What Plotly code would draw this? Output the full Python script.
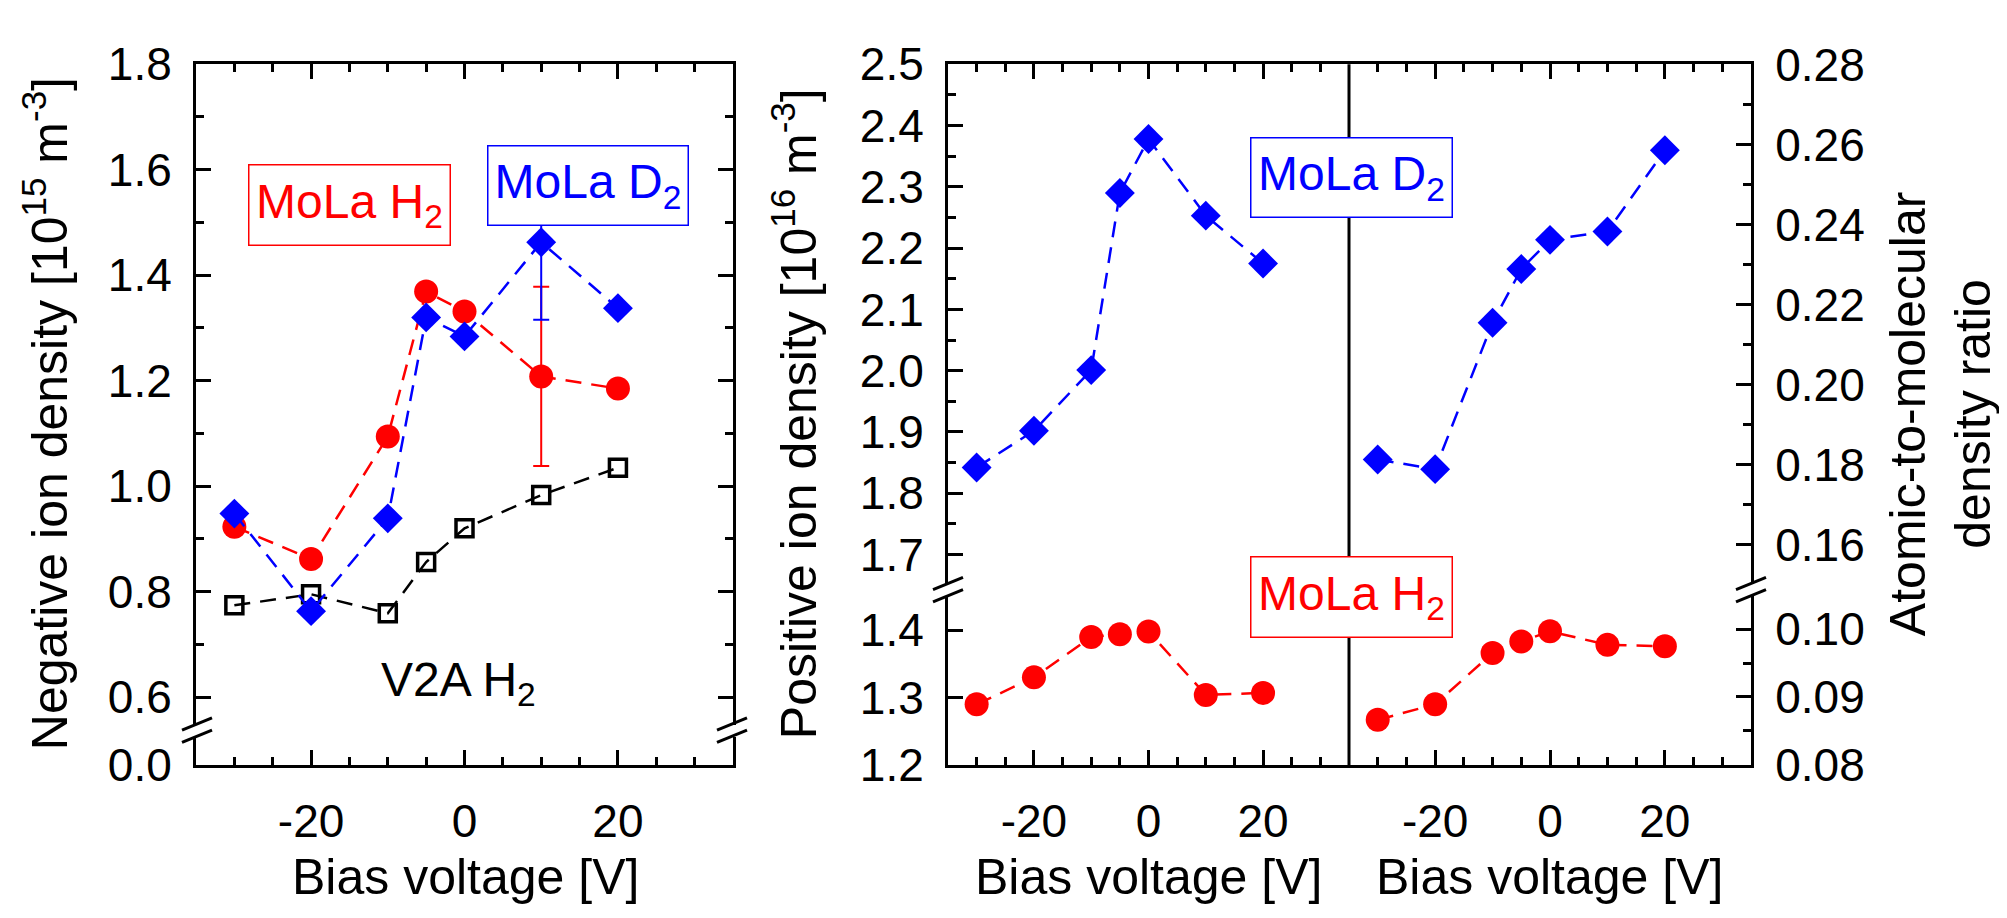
import plotly.graph_objects as go

# ---------------- data ----------------
bias = [-30, -20, -10, -5, 0, 10, 20]

# left panel: negative ion density [1e15 m^-3]
neg_v2a_h2 = [0.774, 0.795, 0.759, 0.856, 0.920, 0.983, 1.035]
neg_mola_h2 = [0.923, 0.862, 1.094, 1.369, 1.331, 1.208, 1.185]
neg_mola_h2_err = [None, None, None, None, None, 0.170, None]
neg_mola_d2 = [0.948, 0.763, 0.939, 1.320, 1.284, 1.4625, 1.3375]
neg_mola_d2_err = [None, None, None, None, None, 0.147, None]

# right panel, left half: positive ion density [1e16 m^-3]
pos_mola_d2 = [1.842, 1.902, 2.001, 2.290, 2.378, 2.253, 2.175]
pos_mola_h2 = [1.290, 1.330, 1.390, 1.394, 1.398, 1.304, 1.307]

# right panel, right half: atomic-to-molecular density ratio
ratio_mola_d2 = [0.1813, 0.1789, 0.2155, 0.2289, 0.2362, 0.2383, 0.2586]
ratio_mola_h2 = [0.0866, 0.0889, 0.0965, 0.0982, 0.0997, 0.0977, 0.0975]

x_tickvals = [-20, 0, 20]
x_ticktext = ["-20", "0", "20"]

# ---------------- styling helpers ----------------
W, H = 2007, 918
FONT = "Liberation Sans, Arial, Helvetica, sans-serif"
RED = "#ff0000"
BLUE = "#0000ff"
BLACK = "#000000"


def fx(px):
    return px / W


def fy(py):
    return 1 - py / H


tickfont = dict(family=FONT, size=46, color=BLACK)

common = dict(showline=True, linecolor=BLACK, linewidth=3, ticks="inside",
              ticklen=15, tickwidth=3, tickcolor=BLACK, showgrid=False,
              zeroline=False, fixedrange=True, tickfont=tickfont)


def xaxis(domain=None, anchor=None, side="bottom", labels=True, overlaying=None):
    d = dict(common)
    d.update(range=[-35, 35], anchor=anchor, side=side,
             tickmode="array", tickvals=x_tickvals, ticktext=x_ticktext,
             showticklabels=labels,
             minor=dict(ticks="inside", ticklen=8, tickwidth=3, tickcolor=BLACK,
                        tickmode="linear", tick0=0, dtick=5))
    if overlaying:
        d["overlaying"] = overlaying
    else:
        d["domain"] = domain
    if labels:
        d["ticklabelstandoff"] = 14
    return d


def yaxis(domain, anchor, rng, dtick=None, minor=None, fmt=".1f", side="left",
          mirror=False, tickvals=None, ticktext=None):
    d = dict(common)
    d.update(domain=domain, anchor=anchor, range=rng, side=side, mirror=mirror,
             tickformat=fmt, ticklabelstandoff=12)
    if tickvals is not None:
        d.update(tickmode="array", tickvals=tickvals, ticktext=ticktext)
    else:
        d.update(tickmode="linear", tick0=0, dtick=dtick)
    if minor:
        d["minor"] = dict(ticks="inside", ticklen=8, tickwidth=3, tickcolor=BLACK,
                          tickmode="linear", tick0=0, dtick=minor)
    return d


fig = go.Figure()

# empty helper traces so that every frame axis (top lines, lower break segment) is drawn
for xa, ya in [("x", "y2"), ("x2", "y"), ("x4", "y3"), ("x6", "y5"), ("x5", "y6")]:
    fig.add_trace(go.Scatter(x=[], y=[], xaxis=xa, yaxis=ya, mode="markers",
                             showlegend=False, hoverinfo="skip"))

dash = "16px,10px"


def add_series(x, y, xa, ya, color, symbol, size, err=None, open_marker=False):
    marker = dict(symbol=symbol, size=size, color=color,
                  line=dict(width=0, color=color))
    if open_marker:
        marker = dict(symbol=symbol, size=size, color=color,
                      line=dict(width=3.5, color=color))
    tr = go.Scatter(x=x, y=y, xaxis=xa, yaxis=ya, mode="lines+markers",
                    line=dict(color=color, width=2.5, dash=dash),
                    marker=marker, cliponaxis=False, showlegend=False,
                    hoverinfo="skip")
    if err is not None:
        tr.error_y = dict(type="data", array=err, visible=True, color=color,
                          thickness=2, width=8)
    fig.add_trace(tr)


# left panel
add_series(bias, neg_v2a_h2, "x", "y", BLACK, "square-open", 17, open_marker=True)
add_series(bias, neg_mola_h2, "x", "y", RED, "circle", 24, err=neg_mola_h2_err)
add_series(bias, neg_mola_d2, "x", "y", BLUE, "diamond", 23, err=neg_mola_d2_err)

# right panel
add_series(bias, pos_mola_d2, "x3", "y3", BLUE, "diamond", 23)
add_series(bias, pos_mola_h2, "x3", "y4", RED, "circle", 24)
add_series(bias, ratio_mola_d2, "x5", "y5", BLUE, "diamond", 23)
add_series(bias, ratio_mola_h2, "x5", "y6", RED, "circle", 24)

# ---------------- axes ----------------
L_dom = [fx(188), fx(725)]
RA_dom = [fx(940), fx(1341)]
RB_dom = [fx(1341), fx(1743)]

yL_up = [fy(732), fy(32)]
yL_lo = [fy(775), fy(745)]
yR_up = [fy(583), fy(32)]
yR_lo = [fy(775), fy(596)]

fig.update_layout(
    xaxis=xaxis(L_dom, "y2"),
    xaxis2=xaxis(anchor="y", side="top", labels=False, overlaying="x"),
    yaxis=yaxis(yL_up, "x", [0.548, 1.8001], dtick=0.2, minor=0.1, mirror="ticks"),
    yaxis2=yaxis(yL_lo, "x", [0, 0.0536], tickvals=[0], ticktext=["0.0"], mirror=True),
    xaxis3=xaxis(RA_dom, "y4"),
    xaxis4=xaxis(anchor="y3", side="top", labels=False, overlaying="x3"),
    xaxis5=xaxis(RB_dom, "y6"),
    xaxis6=xaxis(anchor="y5", side="top", labels=False, overlaying="x5"),
    yaxis3=yaxis(yR_up, "x3", [1.652, 2.5001], dtick=0.1, minor=0.05),
    yaxis4=yaxis(yR_lo, "x3", [1.1999, 1.4503], dtick=0.1),
    yaxis5=yaxis(yR_up, "x5", [0.1502, 0.2801], dtick=0.02, minor=0.01, fmt=".2f", side="right"),
    yaxis6=yaxis(yR_lo, "x5", [0.0799, 0.1049], dtick=0.01, minor=0.005, fmt=".2f", side="right"),
)

# ---------------- decorations ----------------
shapes = []


def seg(x0, y0, x1, y1, w=3):
    shapes.append(dict(type="line", xref="paper", yref="paper",
                       x0=fx(x0), y0=fy(y0), x1=fx(x1), y1=fy(y1),
                       line=dict(color=BLACK, width=w), layer="above"))


def brk(cx, cy_up, cy_lo):
    seg(cx - 15, cy_up + 6, cx + 15, cy_up - 7)
    seg(cx - 15, cy_lo + 6, cx + 15, cy_lo - 7)


brk(189, 732, 745)
brk(724, 732, 745)
brk(940, 583, 596)
brk(1743, 583, 596)
# divider between the two halves of the right panel
seg(1341, 32, 1341, 775)

annotations = []


def label(text, cx, cy, color, w=None, h=None, border=True, size=48):
    a = dict(text=text, xref="paper", yref="paper", x=fx(cx), y=fy(cy),
             xanchor="center", yanchor="middle", showarrow=False,
             font=dict(family=FONT, size=size, color=color))
    if border:
        a.update(bordercolor=color, borderwidth=1.5, borderpad=0, bgcolor="white",
                 width=w, height=h, align="center", valign="middle")
    annotations.append(a)


label("MoLa H<sub>2</sub>", 341, 181.5, RED, 200, 79)
label("MoLa D<sub>2</sub>", 579.5, 161, BLUE, 199, 78)
label("MoLa D<sub>2</sub>", 1343, 152, BLUE, 200, 78)
label("MoLa H<sub>2</sub>", 1343, 596.5, RED, 200, 79)
label("V2A H<sub>2</sub>", 450, 688, BLACK, border=False)


def title(text, cx, cy, angle=0):
    annotations.append(dict(text=text, xref="paper", yref="paper", x=fx(cx), y=fy(cy),
                            xanchor="center", yanchor="middle", showarrow=False,
                            textangle=angle, font=dict(family=FONT, size=50, color=BLACK)))


title("Negative ion density [10<sup>15</sup> m<sup>-3</sup>]", 38, 403, -90)
title("Positive ion density [10<sup>16</sup> m<sup>-3</sup>]", 787, 403, -90)
title("Atomic-to-molecular<br>density ratio", 1932, 403, -90)
title("Bias voltage [V]", 457, 894)
title("Bias voltage [V]", 1140, 894)
title("Bias voltage [V]", 1541, 894)

fig.update_layout(width=W, height=H, autosize=False,
                  margin=dict(l=0, r=0, t=0, b=0, pad=0),
                  paper_bgcolor="white", plot_bgcolor="rgba(0,0,0,0)",
                  showlegend=False, shapes=shapes, annotations=annotations,
                  font=dict(family=FONT, color=BLACK))

fig.write_html("out.html")
